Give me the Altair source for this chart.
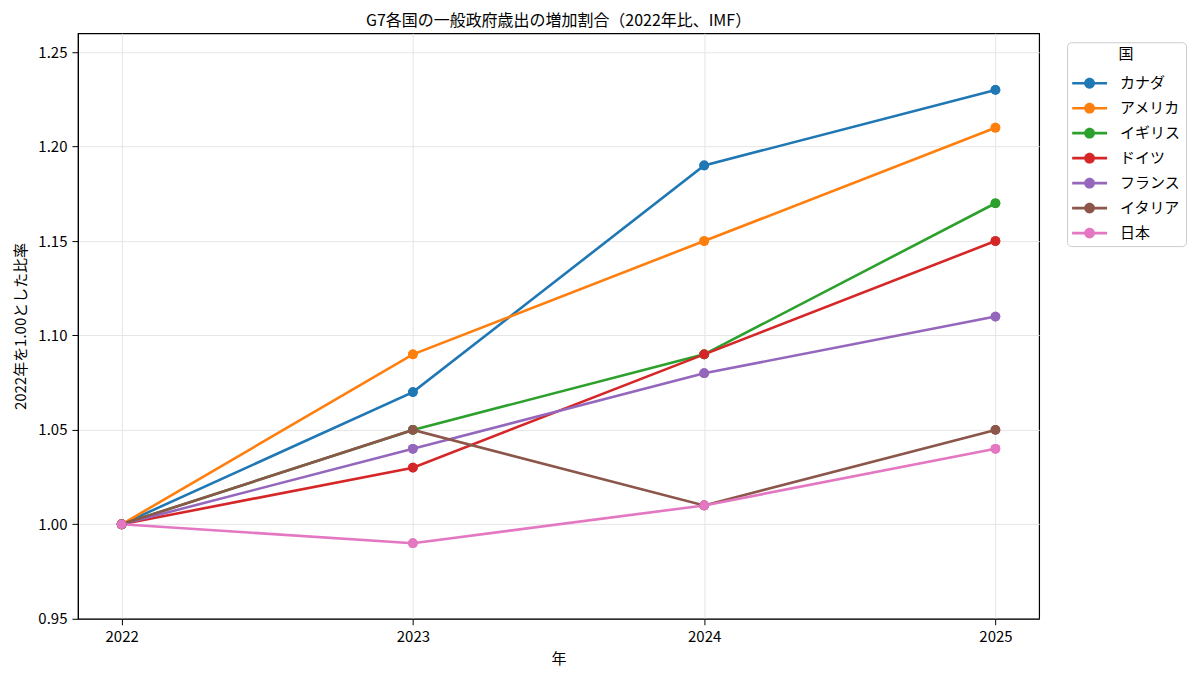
import altair as alt
import pandas as pd

years = [2022, 2023, 2024, 2025]
countries = ["カナダ", "アメリカ", "イギリス", "ドイツ", "フランス", "イタリア", "日本"]
canada = [1.00, 1.07, 1.19, 1.23]
usa = [1.00, 1.09, 1.15, 1.21]
uk = [1.00, 1.05, 1.09, 1.17]
germany = [1.00, 1.03, 1.09, 1.15]
france = [1.00, 1.04, 1.08, 1.11]
italy = [1.00, 1.05, 1.01, 1.05]
japan = [1.00, 0.99, 1.01, 1.04]
colors = ["#1f77b4", "#ff7f0e", "#2ca02c", "#d62728", "#9467bd", "#8c564b", "#e377c2"]
y_ticks = [0.95, 1.00, 1.05, 1.10, 1.15, 1.20, 1.25]

series = [canada, usa, uk, germany, france, italy, japan]
rows = []
for c, vals in zip(countries, series):
    for yr, v in zip(years, vals):
        rows.append({"年": yr, "国": c, "比率": v})
df = pd.DataFrame(rows)

FONT = "Noto Sans CJK JP"
sym_path = ("M -1 -0.075 L 1 -0.075 L 1 0.075 L -1 0.075 Z "
            "M 0.31 0 A 0.31 0.31 0 1 1 -0.31 0 A 0.31 0.31 0 1 1 0.31 0 Z")

x_enc = alt.X("年:Q", scale=alt.Scale(domain=[2021.85, 2025.15], nice=False, zero=False),
              axis=alt.Axis(values=years, format="d", title="年", titlePadding=7))
y_enc = alt.Y("比率:Q", scale=alt.Scale(domain=[0.95, 1.26], nice=False, zero=False),
              axis=alt.Axis(values=y_ticks, format=".2f", title="2022年を1.00とした比率",
                            titlePadding=9))
color_enc = alt.Color("国:N", sort=countries,
                      scale=alt.Scale(domain=countries, range=colors),
                      legend=alt.Legend(
                          title="国", orient="none", legendX=990, legendY=9,
                          symbolType=sym_path, symbolSize=1225, symbolStrokeWidth=0,
                          symbolOpacity=1,
                          clipHeight=14, rowPadding=10,
                          strokeColor="#cccccc", cornerRadius=4, padding=5,
                          titleAnchor="middle", titleFontWeight=400, titleFontSize=15,
                          labelFontSize=15, labelOffset=13, titlePadding=14,
                      ))

base = alt.Chart(df)
points = base.mark_circle(size=95, opacity=1).encode(x=x_enc, y=y_enc, color=color_enc)
lines = base.mark_line(strokeWidth=2.6).encode(x=x_enc, y=y_enc, color=color_enc, order="年:Q")

chart = alt.layer(points, lines, points).properties(
    width=962, height=586,
    title=alt.TitleParams("G7各国の一般政府歳出の増加割合（2022年比、IMF）",
                          fontSize=16, fontWeight=400, font=FONT, offset=4),
    padding={"left": 5, "top": 5, "right": 5, "bottom": 5},
).configure(font=FONT).configure_view(
    stroke="black", strokeWidth=1.2
).configure_axis(
    grid=True, gridColor="#e6e6e6", gridWidth=1,
    domainColor="black", tickColor="black", tickSize=6,
    labelFontSize=15, titleFontSize=15, titleFontWeight=400,
    labelColor="black", titleColor="black", labelFont=FONT, titleFont=FONT,
    labelPadding=5,
).configure_legend(labelFont=FONT, titleFont=FONT, labelColor="black", titleColor="black")

chart.save("out.html", embed_options={"renderer": "svg", "actions": False})
